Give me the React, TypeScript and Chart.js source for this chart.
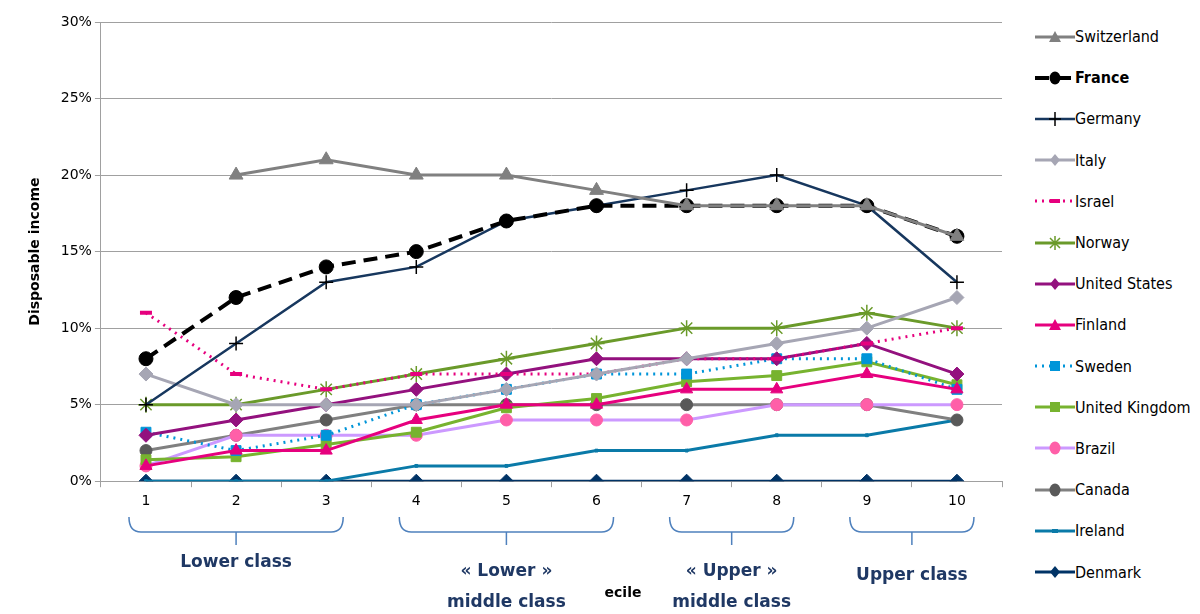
import React, { useEffect, useRef } from "react";
import { Chart, registerables } from "chart.js";
Chart.register(...registerables);

const deciles = ["1", "2", "3", "4", "5", "6", "7", "8", "9", "10"];
const switzerland = [null, 20, 21, 20, 20, 19, 18, 18, 18, 16];
const france = [8, 12, 14, 15, 17, 18, 18, 18, 18, 16];
const germany = [5, 9, 13, 14, 17, 18, 19, 20, 18, 13];
const italy = [7, 5, 5, 5, 6, 7, 8, 9, 10, 12];
const israel = [11, 7, 6, 7, 7, 7, 8, 8, 9, 10];
const norway = [5, 5, 6, 7, 8, 9, 10, 10, 11, 10];
const unitedStates = [3, 4, 5, 6, 7, 8, 8, 8, 9, 7];
const finland = [1, 2, 2, 4, 5, 5, 6, 6, 7, 6];
const sweden = [3.2, 2, 3, 5, 6, 7, 7, 8, 8, 6];
const unitedKingdom = [1.4, 1.6, 2.4, 3.2, 4.8, 5.4, 6.5, 6.9, 7.8, 6.3];
const brazil = [1, 3, 3, 3, 4, 4, 4, 5, 5, 5];
const canada = [2, 3, 4, 5, 5, 5, 5, 5, 5, 4];
const ireland = [0, 0, 0, 1, 1, 2, 2, 3, 3, 4];
const denmark = [0, 0, 0, 0, 0, 0, 0, 0, 0, 0];
const yTicks = [0, 5, 10, 15, 20, 25, 30];

type S = { label: string; data: (number | null)[]; color: string; pcolor?: string; style: any; dash?: number[]; width?: number; r?: number; bold?: boolean };
const series: S[] = [
  { label: "Switzerland", data: switzerland, color: "#808080", style: "triangle", width: 3, r: 8 },
  { label: "France", data: france, color: "#000000", style: "circle", dash: [14, 8], width: 4, r: 7, bold: true },
  { label: "Germany", data: germany, color: "#17375e", pcolor: "#000", style: "cross", width: 2.5, r: 7 },
  { label: "Italy", data: italy, color: "#a6a6b4", style: "rectRot", width: 3, r: 7 },
  { label: "Israel", data: israel, color: "#e6007e", style: "line", dash: [2, 5], width: 3, r: 6 },
  { label: "Norway", data: norway, color: "#6a9a2a", style: "star", width: 3, r: 8 },
  { label: "United States", data: unitedStates, color: "#93117e", style: "rectRot", width: 3, r: 7 },
  { label: "Finland", data: finland, color: "#e6007e", style: "triangle", width: 3, r: 7 },
  { label: "Sweden", data: sweden, color: "#0095d9", style: "rect", dash: [2, 5], width: 3, r: 7 },
  { label: "United Kingdom", data: unitedKingdom, color: "#77b32f", style: "rect", width: 3, r: 7 },
  { label: "Brazil", data: brazil, color: "#cc99ff", pcolor: "#ff5fa8", style: "circle", width: 3, r: 6 },
  { label: "Canada", data: canada, color: "#808080", pcolor: "#595959", style: "circle", width: 3, r: 6 },
  { label: "Ireland", data: ireland, color: "#0a7aa8", style: "rect", width: 3, r: 2 },
  { label: "Denmark", data: denmark, color: "#003366", style: "rectRot", width: 3, r: 7 },
];

const brackets = [
  { from: 0, to: 2, lines: ["Lower class"], y0: 563 },
  { from: 3, to: 5, lines: ["« Lower »", "middle class"], y0: 572 },
  { from: 6, to: 7, lines: ["« Upper »", "middle class"], y0: 572 },
  { from: 8, to: 9, lines: ["Upper class"], y0: 576 },
];

const annot = {
  id: "annot",
  afterDraw(chart: any) {
    const ctx = chart.ctx;
    const x = chart.scales.x;
    ctx.save();
    ctx.strokeStyle = "#4f81bd";
    ctx.lineWidth = 1.5;
    brackets.forEach((b) => {
      const a = x.getPixelForValue(b.from) - 17;
      const c = x.getPixelForValue(b.to) + 17;
      const m = (a + c) / 2;
      ctx.beginPath();
      ctx.moveTo(a, 517);
      ctx.quadraticCurveTo(a, 532, a + 12, 532);
      ctx.lineTo(c - 12, 532);
      ctx.quadraticCurveTo(c, 532, c, 517);
      ctx.moveTo(m, 532);
      ctx.lineTo(m, 545);
      ctx.stroke();
      ctx.fillStyle = "#1f3864";
      ctx.font = "bold 17px 'DejaVu Sans'";
      ctx.textAlign = "center";
      ctx.textBaseline = "middle";
      b.lines.forEach((t, i) => ctx.fillText(t, m, b.y0 + i * 31));
    });
    ctx.fillStyle = "#000";
    ctx.font = "bold 14px 'DejaVu Sans'";
    ctx.fillText("ecile", 623, 593);
    ctx.restore();
  },
};

function Marker({ s }: { s: S }) {
  const pc = s.pcolor || s.color;
  const cx = 20, cy = 10;
  let m: any = null;
  if (s.style === "triangle") m = <polygon points={`${cx},${cy - 6} ${cx - 6},${cy + 5} ${cx + 6},${cy + 5}`} fill={pc} />;
  else if (s.style === "circle") m = <ellipse cx={cx} cy={cy} rx={5.5} ry={6.5} fill={pc} />;
  else if (s.style === "cross") m = <path d={`M${cx - 6} ${cy}H${cx + 6}M${cx} ${cy - 7}V${cy + 7}`} stroke={pc} strokeWidth={1.5} />;
  else if (s.style === "rectRot") m = <polygon points={`${cx},${cy - 6} ${cx + 5},${cy} ${cx},${cy + 6} ${cx - 5},${cy}`} fill={pc} />;
  else if (s.style === "rect") m = s.r && s.r < 4 ? <rect x={cx - 3} y={cy - 2} width={6} height={4} fill={pc} /> : <rect x={cx - 5} y={cy - 5} width={10} height={10} fill={pc} />;
  else if (s.style === "star") m = <path d={`M${cx - 6} ${cy}H${cx + 6}M${cx} ${cy - 7}V${cy + 7}M${cx - 5} ${cy - 5}L${cx + 5} ${cy + 5}M${cx + 5} ${cy - 5}L${cx - 5} ${cy + 5}`} stroke={pc} strokeWidth={1.5} />;
  else if (s.style === "line") m = <path d={`M${cx - 5} ${cy}H${cx + 5}`} stroke={pc} strokeWidth={4} />;
  return (
    <svg width={40} height={20} style={{ flex: "none" }}>
      <line x1={0} y1={cy} x2={40} y2={cy} stroke={s.color} strokeWidth={s.width || 3} strokeDasharray={s.dash ? s.dash.join(" ") : undefined} />
      {m}
    </svg>
  );
}

export default function App() {
  const ref = useRef<HTMLCanvasElement>(null);
  useEffect(() => {
    document.body.style.margin = "0";
    const chart = new Chart(ref.current!, {
      type: "line",
      data: {
        labels: deciles,
        datasets: series.map((s) => ({
          label: s.label,
          data: s.data,
          borderColor: s.color,
          backgroundColor: s.pcolor || s.color,
          pointBorderColor: s.pcolor || s.color,
          pointBackgroundColor: s.pcolor || s.color,
          pointStyle: s.style,
          pointRadius: s.r,
          pointBorderWidth: s.style === "cross" || s.style === "star" ? 1.5 : s.style === "line" ? 4 : 1,
          borderWidth: s.width,
          borderDash: s.dash,
          tension: 0,
          fill: false,
          spanGaps: false,
        })),
      },
      options: {
        responsive: false,
        animation: false,
        layout: { padding: { top: 22, right: 18, bottom: 98, left: 13 } },
        plugins: { legend: { display: false }, tooltip: { enabled: false } },
        scales: {
          x: {
            offset: true,
            grid: { offset: true, drawOnChartArea: false, color: "#a0a0a0", tickLength: 6 },
            border: { color: "#a0a0a0" },
            ticks: { color: "#000", font: { size: 14, family: "'DejaVu Sans'" }, padding: 6 },
          },
          y: {
            min: 0,
            max: 30,
            afterBuildTicks: (ax: any) => { ax.ticks = yTicks.map((v) => ({ value: v })); },
            grid: { color: "#a0a0a0", tickLength: 6 },
            border: { color: "#a0a0a0" },
            ticks: { color: "#000", font: { size: 14, family: "'DejaVu Sans'" }, callback: (v: any) => v + "%" },
            title: { display: true, text: "Disposable income", color: "#000", font: { size: 14, weight: "bold", family: "'DejaVu Sans'" }, padding: 14 },
          },
        },
      },
      plugins: [annot],
    });
    return () => chart.destroy();
  }, []);
  return (
    <div style={{ position: "relative", width: 1200, height: 614, background: "#fff" }}>
      <canvas ref={ref} width={1020} height={614} style={{ position: "absolute", left: 0, top: 0 }} />
      <div style={{ position: "absolute", left: 1035, top: 16 }}>
        {series.map((s) => (
          <div key={s.label} style={{ display: "flex", alignItems: "center", height: 41.2, fontFamily: "'DejaVu Sans Condensed', 'DejaVu Sans'", fontSize: 16, fontWeight: s.bold ? "bold" : "normal", color: "#000", whiteSpace: "nowrap" }}>
            <Marker s={s} />
            <span>{s.label}</span>
          </div>
        ))}
      </div>
    </div>
  );
}
